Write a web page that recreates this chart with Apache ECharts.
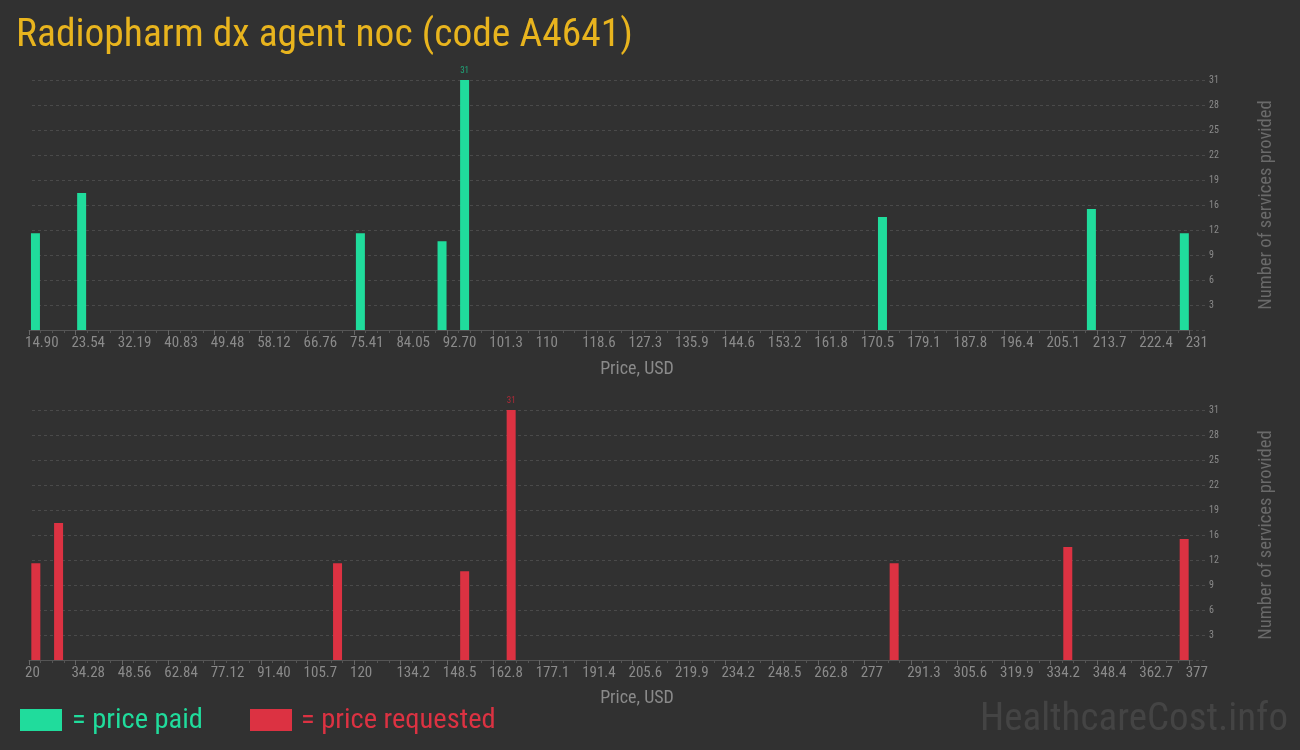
<!DOCTYPE html>
<html><head><meta charset="utf-8">
<script src="https://cdn.jsdelivr.net/npm/echarts@6/dist/echarts.min.js"></script>
<style>html,body{margin:0;padding:0;background:#313131;}#c{width:1300px;height:750px;}</style>
</head><body><div id="c"></div>
<script>
const titleText = 'Radiopharm dx agent noc (code A4641)';
const paidTicks = ['14.90','23.54','32.19','40.83','49.48','58.12','66.76','75.41','84.05','92.70','101.3','110','118.6','127.3','135.9','144.6','153.2','161.8','170.5','179.1','187.8','196.4','205.1','213.7','222.4','231'];
const reqTicks = ['20','34.28','48.56','62.84','77.12','91.40','105.7','120','134.2','148.5','162.8','177.1','191.4','205.6','219.9','234.2','248.5','262.8','277','291.3','305.6','319.9','334.2','348.4','362.7','377'];
const paidPrices = [16.1, 24.7, 76.6, 91.8, 96.0, 173.8, 212.7, 230.0];
const paidCounts = [12, 17, 12, 11, 31, 14, 15, 12];
const reqPrices = [22.1, 29.1, 114.9, 154.0, 168.3, 286.1, 339.5, 375.3];
const reqCounts = [12, 17, 12, 11, 31, 12, 14, 15];
const yMax = 31;

const FONT = '"Roboto Condensed", "Liberation Sans Narrow", "DejaVu Sans Condensed", sans-serif';
const GREEN = '#20dc9c', RED = '#dc3242';
const AX = '#8a8a8a';

function toIdx(ticks, p) {
  const a = parseFloat(ticks[0]), b = parseFloat(ticks[ticks.length - 1]);
  return (p - a) / (b - a) * (ticks.length - 1);
}
function seriesData(ticks, prices, counts) {
  const mx = Math.max(...counts);
  return prices.map((p, i) => ({
    value: [toIdx(ticks, p), counts[i]],
    label: { show: counts[i] === mx }
  }));
}
function xAxis(gi, ticks) {
  return {
    type: 'value', gridIndex: gi, min: 0, max: ticks.length - 1, interval: 1,
    axisLine: { show: true, lineStyle: { color: '#555', width: 1 } },
    axisTick: { show: true, length: 5, lineStyle: { color: '#666' } },
    minorTick: { show: true, splitNumber: 4, length: 3, lineStyle: { color: '#555' } },
    splitLine: { show: false },
    axisLabel: {
      color: AX, fontSize: 15, fontFamily: FONT, align: 'left', margin: 6,
      padding: [0, 0, 0, -4],
      formatter: (v) => ticks[Math.round(v)] || ''
    }
  };
}
function yBar(gi) {
  return { type: 'value', gridIndex: gi, min: 0, max: yMax, show: false, splitLine: { show: false } };
}
function yGrid(gi) {
  return {
    type: 'value', gridIndex: gi, min: 0, max: yMax, interval: yMax / 10, position: 'right',
    name: 'Number of services provided', nameLocation: 'middle', nameRotate: 90, nameGap: 52,
    nameTextStyle: { color: '#6a6a6a', fontSize: 18.5, fontFamily: FONT },
    axisLine: { show: false }, axisTick: { show: false },
    axisLabel: { color: AX, fontSize: 10, fontFamily: FONT, margin: 4, showMinLabel: false,
      formatter: (v) => String(Math.round(v)) },
    splitLine: { show: true, lineStyle: { color: '#4a4a4a', type: [3, 3], width: 1 } }
  };
}
function hiddenX(gi) {
  return { type: 'value', gridIndex: gi, min: 0, max: 1, show: false, splitLine: { show: false } };
}

const chart = echarts.init(document.getElementById('c'), null, { renderer: 'canvas' });
chart.setOption({
  backgroundColor: '#313131',
  animation: false,
  grid: [
    { left: 32, top: 80, width: 1173, height: 250 },
    { left: 29, top: 80, width: 1160.7, height: 250 },
    { left: 32, top: 410, width: 1173, height: 250 },
    { left: 29, top: 410, width: 1160.7, height: 250 }
  ],
  xAxis: [hiddenX(0), xAxis(1, paidTicks), hiddenX(2), xAxis(3, reqTicks)],
  yAxis: [yGrid(0), yBar(1), yGrid(2), yBar(3)],
  series: [
    { type: 'bar', xAxisIndex: 1, yAxisIndex: 1, barWidth: 9, itemStyle: { color: GREEN },
      label: { position: 'top', distance: 5, color: '#1fa87a', fontSize: 9, fontFamily: FONT },
      data: seriesData(paidTicks, paidPrices, paidCounts) },
    { type: 'bar', xAxisIndex: 3, yAxisIndex: 3, barWidth: 9, itemStyle: { color: RED },
      label: { position: 'top', distance: 5, color: '#b02a38', fontSize: 9, fontFamily: FONT },
      data: seriesData(reqTicks, reqPrices, reqCounts) }
  ],
  graphic: [
    { type: 'text', left: 16, top: 16, style: { text: titleText, fill: '#e8b41e', font: '39.5px ' + FONT } },
    { type: 'text', x: 637, y: 360, style: { text: 'Price, USD', fill: AX, font: '18px ' + FONT, align: 'center' } },
    { type: 'text', x: 637, y: 689, style: { text: 'Price, USD', fill: AX, font: '18px ' + FONT, align: 'center' } },
    { type: 'rect', shape: { x: 20, y: 709, width: 42, height: 22 }, style: { fill: GREEN } },
    { type: 'text', left: 72, top: 706, style: { text: '= price paid', fill: GREEN, font: '28.5px ' + FONT } },
    { type: 'rect', shape: { x: 250, y: 709, width: 42, height: 22 }, style: { fill: RED } },
    { type: 'text', left: 301, top: 706, style: { text: '= price requested', fill: RED, font: '28.5px ' + FONT } },
    { type: 'text', right: 12, top: 701, style: { text: 'HealthcareCost.info', fill: '#444444', font: '39px ' + FONT } }
  ]
});
</script></body></html>
